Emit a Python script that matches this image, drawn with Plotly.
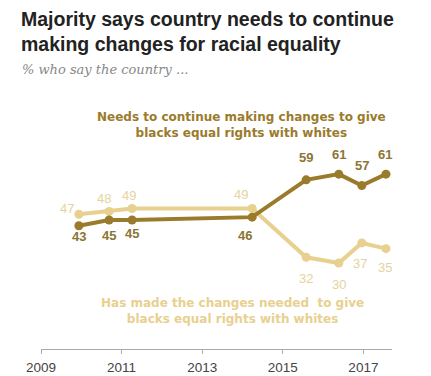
import plotly.graph_objects as go

# Survey dates (decimal years) and shares
survey_dates = [2009.94, 2010.69, 2011.26, 2014.24, 2015.58, 2016.39, 2016.96, 2017.56]
needs_changes = [43, 45, 45, 46, 59, 61, 57, 61]
made_changes = [47, 48, 49, 49, 32, 30, 37, 35]
tick_years = [2009, 2011, 2013, 2015, 2017]

DARK = "#9a7b2c"
LIGHT = "#e8d08f"
DARK_TXT = "#8c7534"
LIGHT_TXT = "#e6d39c"

fig = go.Figure()
fig.add_trace(go.Scatter(
    x=survey_dates, y=made_changes, mode="lines+markers",
    line=dict(color=LIGHT, width=4), marker=dict(color=LIGHT, size=9),
    hoverinfo="skip", showlegend=False))
fig.add_trace(go.Scatter(
    x=survey_dates, y=needs_changes, mode="lines+markers",
    line=dict(color=DARK, width=4), marker=dict(color=DARK, size=9),
    hoverinfo="skip", showlegend=False))

# Value labels: offsets in pixels (dx right, dy down) from each point
dark_pos = [(0, 11), (0, 15), (0, 13), (-7, 18), (0, -22), (0, -20), (0, -20), (-1, -20)]
light_pos = [(-12, -6), (-5, -13), (-3, -13), (-11, -14), (0, 21), (0, 21), (-2, 21), (-1, 19)]
for x, v, (dx, dy) in zip(survey_dates, needs_changes, dark_pos):
    fig.add_annotation(x=x, y=v, text=f"<b>{v}</b>", showarrow=False,
                       xshift=dx, yshift=-dy,
                       font=dict(color=DARK_TXT, size=13, family="Liberation Sans"))
for x, v, (dx, dy) in zip(survey_dates, made_changes, light_pos):
    fig.add_annotation(x=x, y=v, text=str(v), showarrow=False,
                       xshift=dx, yshift=-dy,
                       font=dict(color=LIGHT_TXT, size=13, family="Liberation Sans"))

PLOT_W, PLOT_H, LEFT, BASE = 351, 215, 41, 349


def px(x):
    return (x - LEFT) / PLOT_W


def py(y):
    return (BASE - y) / PLOT_H


# Series labels
fig.add_annotation(xref="paper", yref="paper", x=px(241), y=py(124.5),
                   xanchor="center", yanchor="middle",
                   text="<b>Needs to continue making changes to give<br>blacks equal rights with whites</b>",
                   showarrow=False, align="center",
                   font=dict(color=DARK, size=12, family="DejaVu Sans"))
fig.add_annotation(xref="paper", yref="paper", x=px(232), y=py(311),
                   xanchor="center", yanchor="middle",
                   text="<b>Has made the changes needed  to give<br>blacks equal rights with whites</b>",
                   showarrow=False, align="center",
                   font=dict(color=LIGHT, size=12, family="DejaVu Sans"))

# Title and subtitle
fig.add_annotation(xref="paper", yref="paper", x=px(19), y=py(6),
                   xanchor="left", yanchor="top", align="left", showarrow=False,
                   text="<b>Majority says country needs to continue<br>making changes for racial equality</b>",
                   font=dict(color="#222222", size=19.5, family="Liberation Sans"))
fig.add_annotation(xref="paper", yref="paper", x=px(20), y=py(60),
                   xanchor="left", yanchor="top", align="left", showarrow=False,
                   text="<i>% who say the country ...</i>",
                   font=dict(color="#888888", size=13, family="DejaVu Serif"))

fig.update_layout(
    width=431, height=376,
    margin=dict(l=41, r=39, t=134, b=27),
    plot_bgcolor="white", paper_bgcolor="white",
    xaxis=dict(range=[2009, 2017.71], tickvals=tick_years, ticktext=[str(t) for t in tick_years],
               showgrid=False, zeroline=False, showline=True, linecolor="#aaaaaa", linewidth=1,
               ticks="outside", ticklen=4, tickcolor="#aaaaaa", ticklabelstandoff=2,
               automargin=False,
               tickfont=dict(color="#444444", size=13.5, family="Liberation Sans")),
    yaxis=dict(range=[0, 75], visible=False, showgrid=False, zeroline=False, automargin=False),
)

fig.write_html("out.html")
